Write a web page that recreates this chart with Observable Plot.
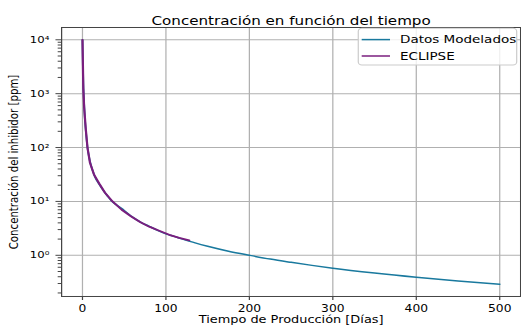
<!DOCTYPE html>
<html>
<head>
<meta charset="utf-8">
<script src="https://cdn.jsdelivr.net/npm/d3@7"></script>
<script src="https://cdn.jsdelivr.net/npm/@observablehq/plot@0.6"></script>
<style>
  html, body { margin: 0; padding: 0; background: white; }
  #chart { width: 521px; height: 330px; overflow: hidden; }
</style>
</head>
<body>
<div id="chart"></div>
<script>
// ---- data ----
const tiempoModelo = [0,0.5,1,1.5,2,3,4,5,6,8,10,12,15,20,25,30,35,40,50,60,70,80,90,100,110,120,135,150,175,200,225,250,275,300,350,400,450,500];
const concModelo   = [10000,3400,1500,950,620,320,210,140,100,66,48,38,28.5,21,16,12.6,10.2,8.8,6.8,5.1,4.1,3.45,2.9,2.5,2.24,2.0,1.70,1.47,1.19,1.0,0.85,0.74,0.65,0.575,0.467,0.39,0.333,0.29];
const tiempoEclipse = [0,1,2,4,6,9,14,20,27,36,47,58,69,80,92,104,116,128];
const concEclipse   = [10000,1250,560,215,100,52,31,21.5,14.5,10,7.0,5.3,4.15,3.4,2.85,2.4,2.1,1.9];
const xTicks = [0,100,200,300,400,500];
const yTicks = [1,10,100,1000,10000];
const yMinor = [0.2,0.3,0.4,0.5,0.6,0.7,0.8,0.9,2,3,4,5,6,7,8,9,20,30,40,50,60,70,80,90,200,300,400,500,600,700,800,900,2000,3000,4000,5000,6000,7000,8000,9000];
const serieNombres = ["Datos Modelados", "ECLIPSE"];
const serieColores = ["#19799e", "#7a1e7e"];
const titulo = "Concentración en función del tiempo";
const xLabel = "Tiempo de Producción [Días]";
const yLabel = "Concentración del inhibidor [ppm]";

const modelo = tiempoModelo.map((t, i) => ({t, c: concModelo[i]}));
const eclipse = tiempoEclipse.map((t, i) => ({t, c: concEclipse[i]}));

// the reference is horizontally stretched; draw at native width then stretch
const s = 1.23;
const W = 521 / s;

const supMap = {"0":"⁰","1":"¹","2":"²","3":"³","4":"⁴","5":"⁵","6":"⁶","7":"⁷","8":"⁸","9":"⁹","-":"⁻"};
const sup = d => "10" + String(Math.round(Math.log10(d))).split("").map(ch => supMap[ch]).join("");

const svg = Plot.plot({
  width: W,
  height: 330,
  marginLeft: 61 / s,
  marginRight: 1 / s,
  marginTop: 27,
  marginBottom: 34,
  x: {domain: [-25, 525]},
  y: {type: "log", domain: [0.172, 16900]},
  style: {fontFamily: "'DejaVu Sans', sans-serif", fontSize: "10px", color: "black", background: "white"},
  marks: [
    Plot.gridX(xTicks, {stroke: "#b0b0b0", strokeOpacity: 1, strokeWidth: 1}),
    Plot.gridY(yTicks, {stroke: "#b0b0b0", strokeOpacity: 1, strokeWidth: 1}),
    Plot.line(modelo, {x: "t", y: "c", stroke: serieColores[0], strokeWidth: 1.5, curve: "monotone-x"}),
    Plot.line(eclipse, {x: "t", y: "c", stroke: serieColores[1], strokeWidth: 1.8}),
    Plot.frame({stroke: "#444", strokeWidth: 1}),
    Plot.axisX(xTicks, {tickSize: 4, tickPadding: 4, label: null, fontSize: 10, stroke: "#444"}),
    Plot.axisY(yTicks, {tickSize: 4.5, tickPadding: 5.5, label: null, tickFormat: sup, fontSize: 9.5, stroke: "#444"}),
    Plot.axisY(yMinor, {tickSize: 2.7, tickFormat: () => "", label: null, stroke: "#444"}),
    Plot.text([titulo], {frameAnchor: "top", dy: -11, fontSize: 12.3, fill: "black"}),
    Plot.text([xLabel], {frameAnchor: "bottom", dy: 27, fontSize: 10.5, fill: "black"}),
    Plot.text([yLabel], {frameAnchor: "left", textAnchor: "middle", dx: -39, rotate: -90, fontSize: 10.2, fill: "black"})
  ]
});

// legend (upper right, matplotlib style)
const lg = d3.select(svg).append("g")
  .attr("font-family", "'DejaVu Sans', sans-serif")
  .attr("font-size", 11)
  .attr("text-anchor", "start");
const lx = 358.3 / s, ly = 28.3;
lg.append("rect").attr("x", lx).attr("y", ly).attr("width", (516.7 - 358.3) / s).attr("height", 36.7)
  .attr("rx", 3).attr("fill", "white").attr("fill-opacity", 0.8).attr("stroke", "#cccccc");
const rowsY = [39.6, 56];
serieNombres.forEach((name, i) => {
  lg.append("line").attr("x1", 361.7 / s).attr("x2", 390 / s).attr("y1", rowsY[i]).attr("y2", rowsY[i])
    .attr("stroke", serieColores[i]).attr("stroke-width", 1.5);
  lg.append("text").attr("x", 400 / s).attr("y", rowsY[i]).attr("dy", "0.35em")
    .attr("text-anchor", "start").attr("fill", "black").text(name);
});

svg.style.transform = `scaleX(${s})`;
svg.style.transformOrigin = "0 0";
svg.style.overflow = "visible";
document.getElementById("chart").appendChild(svg);
</script>
</body>
</html>
